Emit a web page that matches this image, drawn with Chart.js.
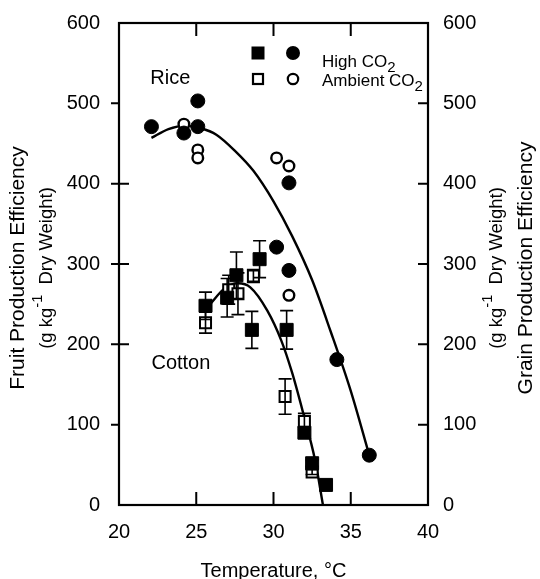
<!DOCTYPE html>
<html>
<head>
<meta charset="utf-8">
<script src="https://cdn.jsdelivr.net/npm/chart.js@4/dist/chart.umd.min.js"></script>
<style>
  html, body { margin: 0; padding: 0; background: #fff; }
  #wrap { width: 540px; height: 579px; position: relative; }
  canvas { display: block; }
</style>
</head>
<body>
<div id="wrap"><canvas id="c" width="540" height="579"></canvas></div>
<script>
// Axis ticks
const xTicks = [20, 25, 30, 35, 40];
const yTicks = [0, 100, 200, 300, 400, 500, 600];

// Rice (grain production efficiency, right axis uses same 0-600 range)
const riceHighT = [22.1, 24.2, 25.1, 25.1, 30.2, 31.0, 31.0, 34.1, 36.2];
const riceHighY = [471, 463, 503, 471, 321, 401, 292, 181, 62];
const riceAmbT  = [24.2, 25.1, 25.1, 30.2, 31.0, 31.0];
const riceAmbY  = [474, 442, 432, 432, 422, 261];

// Cotton (fruit production efficiency) with standard errors
const cottonHighT   = [25.6, 27.0, 27.6, 28.6, 29.1, 30.85, 32.0, 32.5, 33.4];
const cottonHighY   = [248, 258, 286, 218, 306, 218, 90, 52, 25];
const cottonHighErr = [17, 24, 29, 23, 23, 24, 6, 4, 0];
const cottonAmbT    = [25.6, 27.1, 27.7, 28.7, 30.75, 32.0, 32.5];
const cottonAmbY    = [227, 268, 263, 285, 135, 104, 41];
const cottonAmbErr  = [13, 18, 26, 8, 22, 10, 3];

// Fitted response curves
const riceCurveT   = [22.1, 23.2, 24.3, 25.3, 26.3, 27.5, 28.7, 30.0, 31.2, 32.5, 33.7, 35.0, 36.2];
const riceCurveY   = [457, 468, 472, 469, 461, 441, 416, 378, 335, 280, 216, 142, 62];
const cottonCurveT = [25.9, 26.8, 27.7, 28.5, 29.6, 30.5, 31.2, 31.9, 32.7, 33.2];
const cottonCurveY = [250, 269, 276, 271, 242, 205, 165, 116, 55, 0];

const FONT = "'Liberation Sans', Arial, Helvetica, sans-serif";
const pts = (xs, ys) => xs.map((v, i) => ({ x: v, y: ys[i] }));

// Draws a string with a raised or lowered small part, e.g. CO2 or kg-1
function drawRich(ctx, parts, x, y, align) {
  let total = 0;
  parts.forEach(p => { ctx.font = p.size + 'px ' + FONT; total += ctx.measureText(p.t).width; });
  let cx = align === 'center' ? x - total / 2 : x;
  ctx.textAlign = 'left';
  parts.forEach(p => {
    ctx.font = p.size + 'px ' + FONT;
    ctx.fillText(p.t, cx, y + (p.dy || 0));
    cx += ctx.measureText(p.t).width;
  });
}

const decor = {
  id: 'decor',
  afterDatasetsDraw(chart) {
    const { ctx, chartArea: a, scales } = chart;
    const xs = scales.x, ys = scales.y, ys2 = scales.y2;
    ctx.save();
    ctx.strokeStyle = '#000';
    ctx.fillStyle = '#000';

    // error bars on cotton points
    ctx.lineWidth = 1.6;
    const bars = (T, Y, E) => T.forEach((t, i) => {
      if (!E[i]) return;
      const px = xs.getPixelForValue(t);
      const top = ys.getPixelForValue(Y[i] + E[i]);
      const bot = ys.getPixelForValue(Y[i] - E[i]);
      ctx.beginPath();
      ctx.moveTo(px, top); ctx.lineTo(px, bot);
      ctx.moveTo(px - 6.5, top); ctx.lineTo(px + 6.5, top);
      ctx.moveTo(px - 6.5, bot); ctx.lineTo(px + 6.5, bot);
      ctx.stroke();
    });
    bars(cottonHighT, cottonHighY, cottonHighErr);
    bars(cottonAmbT, cottonAmbY, cottonAmbErr);

    // frame
    ctx.lineWidth = 2.2;
    ctx.strokeRect(a.left, a.top, a.right - a.left, a.bottom - a.top);

    // tick marks
    ctx.lineWidth = 2;
    ctx.beginPath();
    xTicks.slice(1, -1).forEach(v => {
      const px = xs.getPixelForValue(v);
      ctx.moveTo(px, a.bottom); ctx.lineTo(px, a.bottom - 13);
      ctx.moveTo(px, a.top); ctx.lineTo(px, a.top + 13);
    });
    yTicks.slice(1, -1).forEach(v => {
      const py = ys.getPixelForValue(v);
      ctx.moveTo(a.left - 8, py); ctx.lineTo(a.left, py);
      if (v >= 200 && v <= 400) { ctx.moveTo(a.left, py); ctx.lineTo(a.left + 10, py); }
      const py2 = ys2.getPixelForValue(v);
      ctx.moveTo(a.right, py2); ctx.lineTo(a.right - 10, py2);
    });
    ctx.stroke();
    ctx.restore();
  },
  afterDraw(chart) {
    const { ctx, chartArea: a, scales } = chart;
    const xs = scales.x, ys = scales.y;
    ctx.save();
    ctx.fillStyle = '#000';
    ctx.strokeStyle = '#000';
    ctx.textBaseline = 'alphabetic';

    // crop labels
    ctx.font = '20px ' + FONT;
    ctx.textAlign = 'left';
    ctx.fillText('Rice', xs.getPixelForValue(22.03), ys.getPixelForValue(524));
    ctx.fillText('Cotton', xs.getPixelForValue(22.1), ys.getPixelForValue(169));

    // legend
    const lx = a.left + 139, cx = a.left + 174, tx = a.left + 203;
    const r1 = a.top + 30, r2 = a.top + 56;
    ctx.fillRect(lx - 6.5, r1 - 6.5, 13, 13);
    ctx.beginPath(); ctx.arc(cx, r1, 7, 0, Math.PI * 2); ctx.fill();
    ctx.lineWidth = 2.2;
    ctx.strokeRect(lx - 5, r2 - 5, 10, 10);
    ctx.beginPath(); ctx.arc(cx, r2, 5.2, 0, Math.PI * 2); ctx.stroke();
    drawRich(ctx, [{ t: 'High CO', size: 17 }, { t: '2', size: 15, dy: 5 }], tx, r1 + 14, 'left');
    drawRich(ctx, [{ t: 'Ambient CO', size: 17 }, { t: '2', size: 15, dy: 5 }], tx, r2 + 6.5, 'left');

    // x axis title
    ctx.font = '20px ' + FONT;
    ctx.textAlign = 'center';
    ctx.fillText('Temperature, °C', (a.left + a.right) / 2, 577);

    // y axis titles (rotated, reading upward)
    const unitParts = [
      { t: '(g kg', size: 18.5 },
      { t: '-1', size: 14.5, dy: -9 },
      { t: '  Dry Weight)', size: 18.5 }
    ];
    const midY = (a.top + a.bottom) / 2 + 4;
    const vtext = (x, fn) => {
      ctx.save();
      ctx.translate(x, midY);
      ctx.rotate(-Math.PI / 2);
      ctx.textBaseline = 'middle';
      fn();
      ctx.restore();
    };
    vtext(18, () => { ctx.font = '21px ' + FONT; ctx.textAlign = 'center'; ctx.fillText('Fruit Production Efficiency', 0, 0); });
    vtext(47, () => drawRich(ctx, unitParts, 0, 0, 'center'));
    vtext(497, () => drawRich(ctx, unitParts, 0, 0, 'center'));
    vtext(526, () => { ctx.font = '21px ' + FONT; ctx.textAlign = 'center'; ctx.fillText('Grain Production Efficiency', 0, 0); });
    ctx.restore();
  }
};

const tickFont = { family: FONT, size: 20 };
const yScale = (pos, width, pad) => ({
  type: 'linear', position: pos, min: 0, max: 600,
  afterBuildTicks: s => { s.ticks = yTicks.map(v => ({ value: v })); },
  afterFit: s => { s.width = width; },
  grid: { display: false }, border: { display: false },
  ticks: { color: '#000', font: tickFont, padding: pad }
});

new Chart(document.getElementById('c'), {
  type: 'scatter',
  data: {
    datasets: [
      { label: 'Cotton high CO2', data: pts(cottonHighT, cottonHighY), pointStyle: 'rect', pointRadius: 9.2,
        backgroundColor: '#000', borderColor: '#000', borderWidth: 1 },
      { label: 'Cotton ambient CO2', data: pts(cottonAmbT, cottonAmbY), pointStyle: 'rect', pointRadius: 7.8,
        backgroundColor: '#fff', borderColor: '#000', borderWidth: 2 },
      { label: 'Rice high CO2', data: pts(riceHighT, riceHighY), pointStyle: 'circle', pointRadius: 7,
        backgroundColor: '#000', borderColor: '#000', borderWidth: 1 },
      { label: 'Rice ambient CO2', data: pts(riceAmbT, riceAmbY), pointStyle: 'circle', pointRadius: 5.3,
        backgroundColor: '#fff', borderColor: '#000', borderWidth: 2.4 },
      { label: 'Rice fit', data: pts(riceCurveT, riceCurveY), showLine: true, pointRadius: 0,
        borderColor: '#000', borderWidth: 2.4, tension: 0.4, cubicInterpolationMode: 'monotone', fill: false },
      { label: 'Cotton fit', data: pts(cottonCurveT, cottonCurveY), showLine: true, pointRadius: 0,
        borderColor: '#000', borderWidth: 2.4, tension: 0.4, cubicInterpolationMode: 'monotone', fill: false }
    ]
  },
  options: {
    responsive: false,
    animation: false,
    devicePixelRatio: 1,
    layout: { autoPadding: false, padding: { top: 19, left: 0, right: 0, bottom: 0 } },
    plugins: { legend: { display: false }, tooltip: { enabled: false } },
    scales: {
      x: {
        type: 'linear', min: 20, max: 40,
        afterBuildTicks: s => { s.ticks = xTicks.map(v => ({ value: v })); },
        afterFit: s => { s.height = 74; },
        grid: { display: false }, border: { display: false },
        ticks: { color: '#000', font: tickFont, padding: 7, maxRotation: 0 }
      },
      y: yScale('left', 119, 11),
      y2: yScale('right', 112, 7)
    }
  },
  plugins: [decor]
});
</script>
</body>
</html>
